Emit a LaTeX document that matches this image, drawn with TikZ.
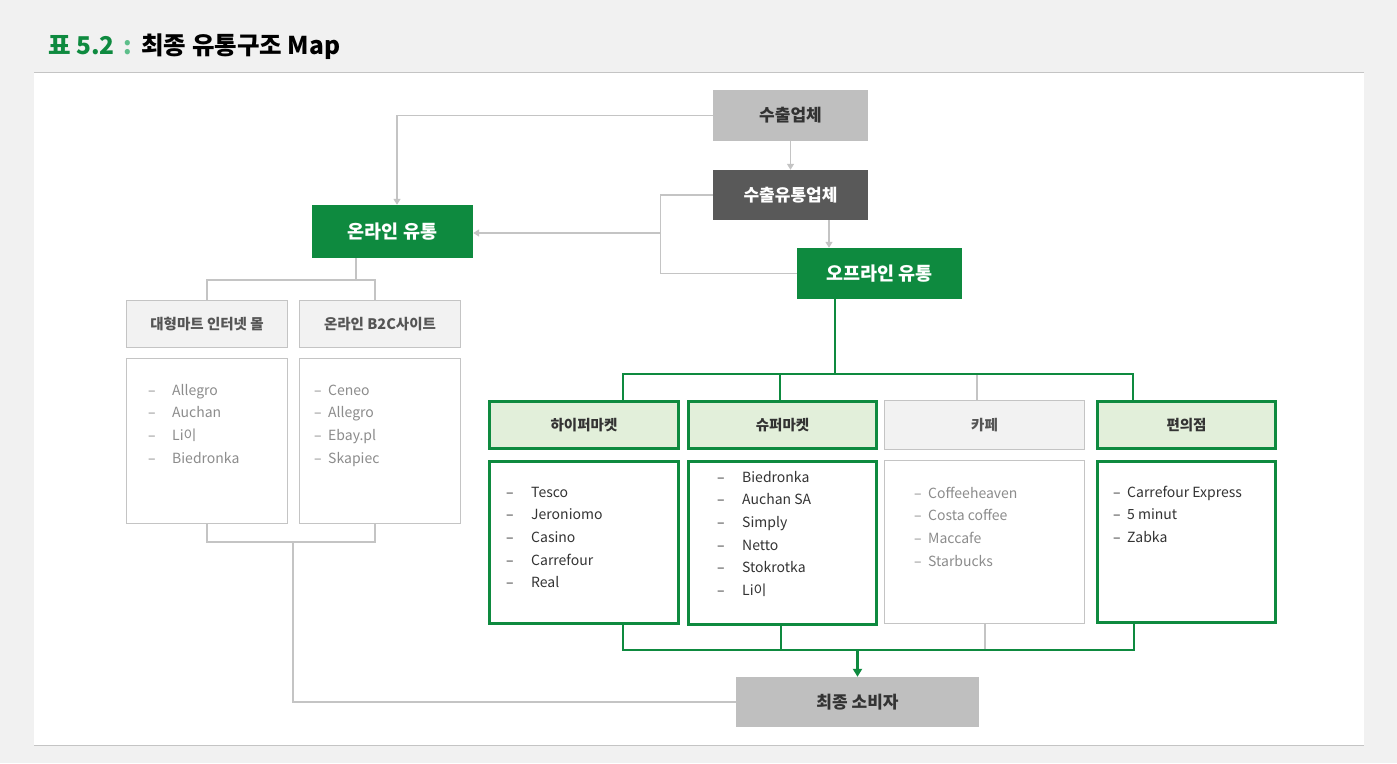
\documentclass[tikz,border=0pt]{standalone}
\usepackage{fontspec}
\setmainfont{Noto Sans CJK KR}
\usetikzlibrary{arrows.meta}
\definecolor{bgc}{HTML}{F1F1F1}
\definecolor{grn}{HTML}{0E8A3F}
\definecolor{colonc}{HTML}{5DBE8A}
\definecolor{lgrn}{HTML}{E2EFDA}
\definecolor{lgray}{HTML}{F2F2F2}
\definecolor{mgray}{HTML}{BFBFBF}
\definecolor{dgray}{HTML}{595959}
\definecolor{linec}{HTML}{C4C4C4}
\definecolor{txtc}{HTML}{333333}
\definecolor{ltxt}{HTML}{8C8C8C}
\definecolor{hdtxt}{HTML}{555555}
\newcommand\mklist[6]{%
  \foreach \t [count=\i] in {#6} {%
    \node[#5, anchor=base west] (#1\i) at (#2, {#3+22.7*(\i-1)}) {\makebox[#4pt][l]{–}\t};
  }%
}
\begin{document}
\begin{tikzpicture}[x=1pt,y=-1pt,
  gline/.style={linec, line width=1.3pt},
  gthick/.style={grn, line width=2.8pt},
  gtip/.style={-{Triangle[width=7pt,length=6pt]}},
  solidbox/.style={inner sep=0pt, font=\fontsize{17}{20}\selectfont\bfseries},
  hdrg/.style={draw=grn, line width=3pt, fill=lgrn, inner sep=0pt, text=txtc, font=\fontsize{14.5}{17}\selectfont\bfseries},
  hdrl/.style={draw=linec, line width=1pt, fill=lgray, inner sep=0pt, text=hdtxt, font=\fontsize{14.5}{17}\selectfont\bfseries},
  listg/.style={draw=grn, line width=3pt, fill=white, inner sep=0pt},
  listl/.style={draw=linec, line width=1pt, fill=white, inner sep=0pt},
  itdark/.style={inner sep=0pt, text=txtc, font=\fontsize{14}{16}\selectfont},
  itlight/.style={inner sep=0pt, text=ltxt, font=\fontsize{14}{16}\selectfont},
]
\useasboundingbox (0,0) rectangle (1397,763);
\fill[bgc] (0,0) rectangle (1397,763);
\fill[white] (34,72) rectangle (1364,745);
\draw[linec, line width=1pt] (34,72) -- (1364,72);
\draw[linec, line width=1pt] (34,745) -- (1364,745);

% title
\node[anchor=base west, inner sep=0pt, font=\fontsize{24.5}{27}\selectfont\bfseries] (title) at (48,54)
  {\textcolor{grn}{표 5.2}\hspace{9pt}\textcolor{colonc}{:}\hspace{9pt}최종 유통구조 Map};

% top nodes
\node[solidbox, fill=mgray, text=txtc, minimum width=155pt, minimum height=51pt] (exp) at (790.5,115.5) {수출업체};
\node[solidbox, fill=dgray, text=white, minimum width=155pt, minimum height=50pt] (dist) at (790.5,195) {수출유통업체};
\node[solidbox, fill=grn, text=white, minimum width=161pt, minimum height=53pt, font=\fontsize{18.5}{21}\selectfont\bfseries] (onl) at (392.5,231.5) {온라인 유통};
\node[solidbox, fill=grn, text=white, minimum width=165pt, minimum height=51pt, font=\fontsize{18.5}{21}\selectfont\bfseries] (off) at (879.5,273.5) {오프라인 유통};
\node[solidbox, fill=mgray, text=txtc, minimum width=243pt, minimum height=50pt] (cons) at (857.5,702) {최종 소비자};

% online headers and lists
\node[hdrl, minimum width=161pt, minimum height=47pt] (mart) at (207,324) {대형마트 인터넷 몰};
\node[hdrl, minimum width=161pt, minimum height=47pt] (b2c) at (380,324) {온라인 B2C사이트};
\node[listl, minimum width=161pt, minimum height=165pt] (martl) at (207,441) {};
\node[listl, minimum width=161pt, minimum height=165pt] (b2cl) at (380,441) {};

% offline headers and lists
\node[hdrg, minimum width=189pt, minimum height=47pt] (hyp) at (584,425) {하이퍼마켓};
\node[hdrg, minimum width=188pt, minimum height=47pt] (sup) at (782.5,425) {슈퍼마켓};
\node[hdrl, minimum width=200pt, minimum height=49pt] (cafe) at (984.5,425) {카페};
\node[hdrg, minimum width=178pt, minimum height=47pt] (conv) at (1186.5,425) {편의점};
\node[listg, minimum width=189pt, minimum height=162pt] (hypl) at (584,542.5) {};
\node[listg, minimum width=188pt, minimum height=163pt] (supl) at (782.5,543) {};
\node[listl, minimum width=200pt, minimum height=163pt] (cafel) at (984.5,542) {};
\node[listg, minimum width=178pt, minimum height=161pt] (convl) at (1186.5,542) {};

% list items
\mklist{ma}{148}{395}{24}{itlight}{Allegro,Auchan,Li이,Biedronka}
\mklist{bc}{314}{395}{14}{itlight}{Ceneo,Allegro,Ebay.pl,Skapiec}
\mklist{hy}{506}{497}{25}{itdark}{Tesco,Jeroniomo,Casino,Carrefour,Real}
\mklist{su}{717}{482}{25}{itdark}{Biedronka,Auchan SA,Simply,Netto,Stokrotka,Li이}
\mklist{ca}{914}{498}{14}{itlight}{Coffeeheaven,Costa coffee,Maccafe,Starbucks}
\mklist{cv}{1113}{497}{14}{itdark}{Carrefour Express,5 minut,Zabka}

% gray connectors
\draw[gline, gtip] (exp.west) -| ([xshift=4.5pt]onl.north);
\draw[gline, gtip] (exp.south) -- (dist.north);
\draw[gline, gtip] ([xshift=38.5pt]dist.south) -- ([xshift=-50.5pt]off.north);
\draw[gline] (dist.west) -- ++(-52,0) |- (off.west);
\coordinate (jn) at (661,233);
\draw[gline, gtip] (jn) -- (jn -| onl.east);
\coordinate (ob) at (356,280);
\draw[gline] (onl.south -| ob) -- (ob);
\draw[gline] (mart.north) |- (ob) -| ([xshift=-5pt]b2c.north);
\draw[gline] (martl.south) -- ++(0,18) -| ([xshift=-5pt]b2cl.south);
\coordinate (lb) at (293,542);
\draw[gline] (lb) |- (cons.west);
\draw[gline] ([xshift=-7.5pt]cafe.north) -- ++(0,-26);
\draw[gline] ([xshift=0.5pt]cafel.south) -- ++(0,26);

% green connectors
\draw[gthick] ([xshift=-44.5pt]off.south) -- ++(0,75);
\draw[gthick] ([xshift=39pt]hyp.north) -- ++(0,-26) -| ([xshift=-53.5pt]conv.north);
\draw[gthick] ([xshift=-2.5pt]sup.north) -- ++(0,-26);
\draw[gthick] ([xshift=39pt]hypl.south) -- ++(0,25) -| ([xshift=-52.5pt]convl.south);
\draw[gthick] ([xshift=-1.5pt]supl.south) -- ++(0,24);
\draw[grn, line width=2.2pt, -{Triangle[width=9pt,length=8pt]}] ([yshift=26pt]cons.north) -- (cons.north);
\end{tikzpicture}
\end{document}
